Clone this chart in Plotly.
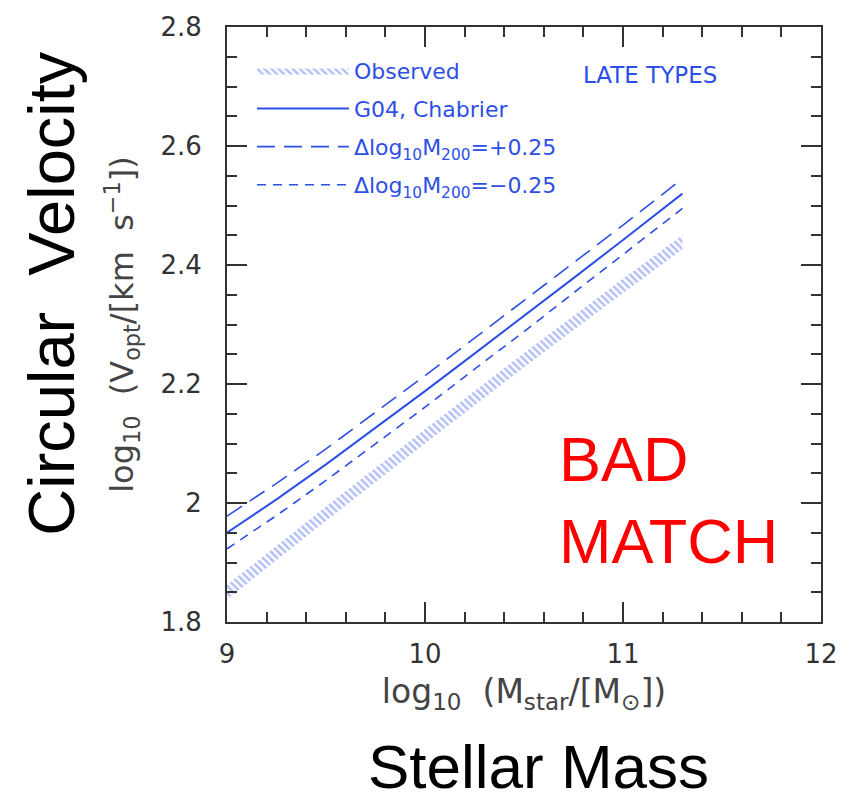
import plotly.graph_objects as go

# ---------------- data ----------------
mass_x = [9.0, 9.25, 9.5, 9.75, 10.0, 10.25, 10.5, 10.75, 11.0, 11.3]
g04_chabrier = [1.950, 2.006, 2.065, 2.126, 2.188, 2.251, 2.314, 2.378, 2.442, 2.520]
m200_plus = [1.978, 2.033, 2.091, 2.152, 2.214, 2.277, 2.340, 2.404, 2.467, 2.545]
m200_minus = [1.923, 1.979, 2.038, 2.099, 2.161, 2.225, 2.288, 2.353, 2.417, 2.495]

obs_x = [9.0, 9.5, 10.0, 10.5, 11.0, 11.3]
obs_upper = [1.862, 1.994, 2.124, 2.252, 2.377, 2.450]
obs_lower = [1.838, 1.970, 2.100, 2.228, 2.353, 2.426]

x_ticks = [9, 10, 11, 12]
y_ticks = [1.8, 2.0, 2.2, 2.4, 2.6, 2.8]
y_tick_text = ["1.8", "2", "2.2", "2.4", "2.6", "2.8"]

BLUE = "#2d4fe6"
HATCH = "#6a82ee"
AX = "#333333"
NB = "\u00a0"

fig = go.Figure()

fig.add_trace(go.Scatter(
    x=obs_x + obs_x[::-1], y=obs_upper + obs_lower[::-1],
    mode="lines", fill="toself", line=dict(width=0, color=HATCH),
    fillcolor="rgba(0,0,0,0)",
    fillpattern=dict(shape="\\", fgcolor=HATCH, bgcolor="rgba(255,255,255,0)",
                     size=5, solidity=0.5),
    name="Observed", legendgroup="a", hoverinfo="skip"))
fig.add_trace(go.Scatter(
    x=mass_x, y=g04_chabrier, mode="lines",
    line=dict(color=BLUE, width=2), name="G04, Chabrier", legendgroup="b"))
fig.add_trace(go.Scatter(
    x=mass_x, y=m200_plus, mode="lines",
    line=dict(color=BLUE, width=1.6, dash="18px,9px"),
    name="Δlog<sub>10</sub>M<sub>200</sub>=+0.25", legendgroup="c"))
fig.add_trace(go.Scatter(
    x=mass_x, y=m200_minus, mode="lines",
    line=dict(color=BLUE, width=1.6, dash="9px,7px"),
    name="Δlog<sub>10</sub>M<sub>200</sub>=−0.25", legendgroup="d"))

axis_common = dict(
    showgrid=False, zeroline=False, showline=True, linecolor=AX, linewidth=2,
    mirror="ticks", ticks="inside", ticklen=20, tickwidth=2, tickcolor=AX,
    tickfont=dict(size=26, color=AX, family="DejaVu Sans"),
)

fig.update_xaxes(
    range=[9, 12], tickvals=x_ticks, ticktext=[str(v) for v in x_ticks],
    minor=dict(dtick=0.2, ticklen=10, tickwidth=2, tickcolor=AX, ticks="inside"),
    title=dict(text="log<sub>10</sub>" + NB + " (M<sub>star</sub>/[M<sub>⊙</sub>])",
               font=dict(size=33, color="#444444", family="DejaVu Sans"),
               standoff=12),
    ticklabelstandoff=8,
    **axis_common)
fig.update_yaxes(
    range=[1.8, 2.8], tickvals=y_ticks, ticktext=y_tick_text,
    minor=dict(dtick=0.05, ticklen=10, tickwidth=2, tickcolor=AX, ticks="inside"),
    title=dict(text="log<sub>10</sub>" + NB + " (V<sub>opt</sub>/[km" + NB + " s<sup>−1</sup>])",
               font=dict(size=32, color="#444444", family="DejaVu Sans"),
               standoff=17),
    ticklabelstandoff=18,
    **axis_common)

fig.add_annotation(text="LATE TYPES", xref="paper", yref="paper", x=0.712, y=0.92,
                   xanchor="center", yanchor="middle", showarrow=False,
                   font=dict(size=23, color=BLUE, family="DejaVu Sans"))
fig.add_annotation(text="BAD<br>MATCH", xref="paper", yref="paper", x=0.555, y=0.205,
                   xanchor="left", yanchor="middle", align="left", showarrow=False,
                   font=dict(size=63, color="#ff0000", family="Liberation Sans"))
fig.add_annotation(text="Circular  Velocity", xref="paper", yref="paper", x=-0.295, y=0.553,
                   xanchor="center", yanchor="middle", textangle=-90, showarrow=False,
                   font=dict(size=65, color="black", family="Liberation Sans"))
fig.add_annotation(text="Stellar Mass", xref="paper", yref="paper", x=0.525, y=-0.305,
                   xanchor="center", yanchor="bottom", showarrow=False,
                   font=dict(size=62, color="black", family="Liberation Sans"))

fig.update_layout(
    width=850, height=810,
    margin=dict(l=227, r=24, t=22, b=188),
    plot_bgcolor="white", paper_bgcolor="white",
    showlegend=True,
    legend=dict(x=0.042, y=0.962, xanchor="left", yanchor="top",
                bgcolor="rgba(0,0,0,0)", borderwidth=0,
                font=dict(size=22, color=BLUE, family="DejaVu Sans"),
                itemwidth=92, traceorder="grouped", tracegroupgap=6.5),
)

fig.write_html("out.html")
